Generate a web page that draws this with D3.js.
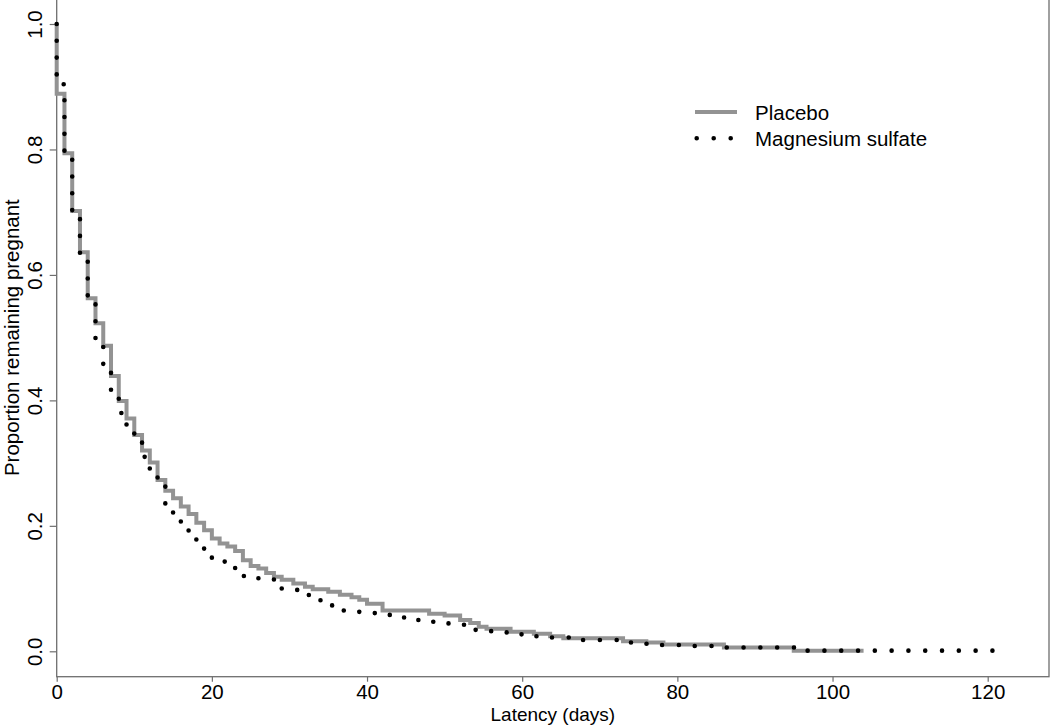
<!DOCTYPE html>
<html>
<head>
<meta charset="utf-8">
<script src="https://cdn.jsdelivr.net/npm/d3@7"></script>
<style>
  html, body { margin: 0; padding: 0; background: #fff; }
  svg { display: block; font-family: "Liberation Sans", Arial, Helvetica, sans-serif; }
</style>
</head>
<body>
<svg id="chart" width="1050" height="725"></svg>
<script>
// ---- Data (Kaplan-Meier step curves: [day, proportion]) ----
const placeboDays = [0, 0, 1, 2, 3, 4, 5, 6, 7, 8, 9, 10, 11, 12, 13, 14, 15, 16, 17, 18, 19, 20, 21, 22, 23, 24, 25, 26, 27, 28, 29, 30.5, 32, 33, 35, 36.5, 38, 39, 40, 42, 48, 50, 52, 53.3, 54.4, 55.4, 58.5, 61.5, 63.6, 65.3, 73, 76, 78.2, 86, 95, 104];
const placeboVals = [1.0, 0.889, 0.794, 0.702, 0.636, 0.563, 0.523, 0.487, 0.439, 0.399, 0.371, 0.345, 0.320, 0.301, 0.273, 0.256, 0.244, 0.231, 0.219, 0.205, 0.193, 0.180, 0.172, 0.167, 0.160, 0.145, 0.136, 0.132, 0.125, 0.119, 0.114, 0.108, 0.103, 0.099, 0.095, 0.090, 0.086, 0.082, 0.076, 0.065, 0.060, 0.057, 0.050, 0.045, 0.039, 0.036, 0.031, 0.028, 0.024, 0.021, 0.016, 0.014, 0.011, 0.006, 0.001, 0.001];

const magDays = [0, 0, 1, 2, 3, 4, 5, 6, 7, 8, 9, 10, 11, 12, 13, 14, 15, 16, 17, 18, 19, 20, 22, 23, 24, 26, 28, 29, 31, 32.5, 34, 35.5, 37, 39, 41, 43, 45, 48.5, 50.5, 52.5, 54, 56, 58, 60, 62, 66, 74, 76, 78, 81, 86, 96.5, 122];
const magVals = [1.0, 0.904, 0.79, 0.70, 0.625, 0.56, 0.49, 0.45, 0.41, 0.38, 0.355, 0.335, 0.31, 0.29, 0.265, 0.235, 0.218, 0.203, 0.188, 0.165, 0.152, 0.143, 0.138, 0.128, 0.120, 0.116, 0.108, 0.100, 0.092, 0.085, 0.077, 0.070, 0.065, 0.061, 0.058, 0.054, 0.050, 0.047, 0.044, 0.039, 0.033, 0.031, 0.027, 0.024, 0.022, 0.018, 0.014, 0.012, 0.010, 0.0085, 0.006, 0.001, 0.001];

const xTicks = [0, 20, 40, 60, 80, 100, 120];
const yTicks = [0.0, 0.2, 0.4, 0.6, 0.8, 1.0];
const seriesNames = ["Placebo", "Magnesium sulfate"];
const xTitle = "Latency (days)";
const yTitle = "Proportion remaining pregnant";

// ---- Layout ----
const svg = d3.select("#chart");
const x = d3.scaleLinear().domain([0, 120]).range([56.7, 987.7]);
const y = d3.scaleLinear().domain([0, 1]).range([651.3, 24]);
const frameRight = 1049, frameBottom = 676.7;
const axisColor = "#6e6e6e";
const fontSize = 20.5;

// frame
svg.append("rect")
  .attr("x", x(0)).attr("y", -3)
  .attr("width", frameRight - x(0)).attr("height", frameBottom + 3)
  .attr("fill", "none").attr("stroke", axisColor).attr("stroke-width", 1.3);

// y axis
const yAxis = svg.append("g")
  .attr("transform", `translate(${x(0)},0)`)
  .call(d3.axisLeft(y).tickValues(yTicks).tickFormat(d3.format(".1f")).tickSize(7).tickPadding(0));
yAxis.select(".domain").remove();
yAxis.selectAll(".tick line").attr("stroke", axisColor).attr("stroke-width", 1.2);
yAxis.selectAll(".tick text")
  .attr("x", null).attr("dy", null)
  .attr("transform", "translate(-15,0) rotate(-90)")
  .attr("text-anchor", "middle")
  .attr("fill", "#000")
  .style("font-size", fontSize + "px")
  .style("font-family", "'Liberation Sans', Arial, Helvetica, sans-serif");

// x axis
const xAxis = svg.append("g")
  .attr("transform", `translate(0,${frameBottom})`)
  .call(d3.axisBottom(x).tickValues(xTicks).tickFormat(d3.format("d")).tickSize(5).tickPadding(0));
xAxis.select(".domain").remove();
xAxis.selectAll(".tick line").attr("stroke", axisColor).attr("stroke-width", 1.2);
xAxis.selectAll(".tick text")
  .attr("y", 22).attr("dy", null)
  .attr("fill", "#000")
  .style("font-size", fontSize + "px")
  .style("font-family", "'Liberation Sans', Arial, Helvetica, sans-serif");

// titles
svg.append("text")
  .attr("transform", `translate(19,${y(0.5)}) rotate(-90)`)
  .attr("text-anchor", "middle")
  .style("font-size", fontSize + "px")
  .text(yTitle);
svg.append("text")
  .attr("x", (x(0) + frameRight) / 2).attr("y", 720.8)
  .attr("text-anchor", "middle")
  .style("font-size", "19px")
  .text(xTitle);

// curves
const line = d3.line().x(d => x(d[0])).y(d => y(d[1])).curve(d3.curveStepAfter);
const placebo = placeboDays.map((d, i) => [d, placeboVals[i]]);
const mag = magDays.map((d, i) => [d, magVals[i]]);

svg.append("path")
  .datum(placebo)
  .attr("d", line)
  .attr("fill", "none")
  .attr("stroke", "#939393")
  .attr("stroke-width", 4)
  .attr("stroke-linejoin", "miter");

svg.append("path")
  .datum(mag)
  .attr("d", line)
  .attr("fill", "none")
  .attr("stroke", "#000")
  .attr("stroke-width", 4.6)
  .attr("stroke-linecap", "round")
  .attr("stroke-dasharray", "0 16.8");

// legend
const lg = svg.append("g");
lg.append("line")
  .attr("x1", 695).attr("x2", 737).attr("y1", 112).attr("y2", 112)
  .attr("stroke", "#939393").attr("stroke-width", 4);
lg.append("line")
  .attr("x1", 696.7).attr("x2", 731).attr("y1", 138.3).attr("y2", 138.3)
  .attr("stroke", "#000").attr("stroke-width", 4.6)
  .attr("stroke-linecap", "round").attr("stroke-dasharray", "0 17");
lg.selectAll("text.leg")
  .data(seriesNames)
  .enter().append("text")
  .attr("class", "leg")
  .attr("x", 755)
  .attr("y", (d, i) => 120 + i * 25.5)
  .style("font-size", fontSize + "px")
  .text(d => d);
</script>
</body>
</html>
